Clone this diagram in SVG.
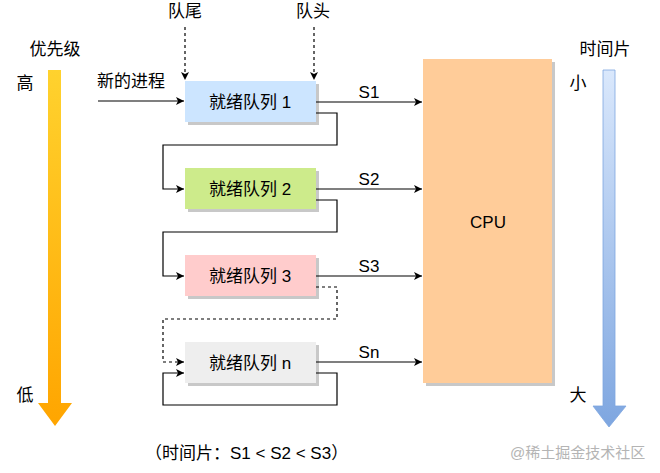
<svg xmlns="http://www.w3.org/2000/svg" width="660" height="473" viewBox="0 0 660 473">
<defs>
<style>
text{font-family:"Liberation Sans","Noto Sans CJK SC",sans-serif;fill:#000;}
.t{font-size:17px;}
.lbl{font-size:17px;text-anchor:middle;}
.sh{fill:#c8c8c8;}
.ln{fill:none;stroke:#000;stroke-width:1.2;}
.dash{fill:none;stroke:#000;stroke-width:1.2;stroke-dasharray:3,3;}
</style>
<marker id="ah" markerWidth="10" markerHeight="10" refX="9" refY="5" orient="auto" markerUnits="userSpaceOnUse">
<path d="M1,1 L9,5 L1,9 L3,5 Z" fill="#000"/>
</marker>
<linearGradient id="gO" x1="0" y1="0" x2="0" y2="1">
<stop offset="0" stop-color="#ffd22e"/>
<stop offset="1" stop-color="#ffa500"/>
</linearGradient>
<linearGradient id="gB" x1="0" y1="0" x2="0" y2="1">
<stop offset="0" stop-color="#dae8fc"/>
<stop offset="1" stop-color="#7ea6e0"/>
</linearGradient>
</defs>
<rect width="660" height="473" fill="#fff"/>

<g id="priority-arrow">
<path d="M48,70 L61,70 L61,403 L72,403 L55,426 L38,403 L48,403 Z" fill="url(#gO)"/>
<text x="55" y="55" class="lbl">优先级</text>
<text x="25" y="89" class="lbl">高</text>
<text x="25" y="401" class="lbl">低</text>
</g>

<g id="timeslice-arrow">
<path d="M603,70 L615,70 L615,406 L626,406 L609,427 L593,406 L603,406 Z" fill="url(#gB)" stroke="#7ea6e0" stroke-width="0.8"/>
<text x="605" y="55" class="lbl">时间片</text>
<text x="578" y="89" class="lbl">小</text>
<text x="578" y="401" class="lbl">大</text>
</g>

<g id="cpu">
<rect x="426" y="62" width="129" height="324" class="sh"/>
<rect x="423" y="59" width="129" height="324" fill="#ffcc99"/>
<text x="488" y="228" class="lbl">CPU</text>
</g>

<g id="q1">
<rect x="188" y="84" width="131" height="41" class="sh"/>
<rect x="185" y="81" width="131" height="41" fill="#cce5ff"/>
<text x="250" y="108" class="lbl">就绪队列 1</text>
</g>
<g id="q2">
<rect x="188" y="171" width="131" height="41" class="sh"/>
<rect x="185" y="168" width="131" height="41" fill="#cdeb8b"/>
<text x="250" y="195" class="lbl">就绪队列 2</text>
</g>
<g id="q3">
<rect x="188" y="258" width="131" height="41" class="sh"/>
<rect x="185" y="255" width="131" height="41" fill="#ffcccc"/>
<text x="250" y="282" class="lbl">就绪队列 3</text>
</g>
<g id="qn">
<rect x="188" y="345" width="131" height="41" class="sh"/>
<rect x="185" y="342" width="131" height="41" fill="#eeeeee"/>
<text x="250" y="369" class="lbl">就绪队列 n</text>
</g>

<g id="labels">
<text x="185" y="17" class="lbl">队尾</text>
<text x="313" y="17" class="lbl">队头</text>
<text x="131" y="87" class="lbl">新的进程</text>
<text x="369" y="98" class="lbl">S1</text>
<text x="369" y="185" class="lbl">S2</text>
<text x="369" y="272" class="lbl">S3</text>
<text x="369" y="358" class="lbl">Sn</text>
<text x="145" y="459" class="t">（时间片：S1 &lt; S2 &lt; S3）</text>
<text x="510" y="458" style="font-size:15px;fill:#b4b4b4">@稀土掘金技术社区</text>
</g>

<g id="connectors">
<path d="M185,27 L185,80" class="dash" marker-end="url(#ah)"/>
<path d="M314,27 L314,80" class="dash" marker-end="url(#ah)"/>
<path d="M98,101 L184,101" class="ln" marker-end="url(#ah)"/>
<path d="M316,102 L422,102" class="ln" marker-end="url(#ah)"/>
<path d="M316,189 L422,189" class="ln" marker-end="url(#ah)"/>
<path d="M316,276 L422,276" class="ln" marker-end="url(#ah)"/>
<path d="M316,362 L422,362" class="ln" marker-end="url(#ah)"/>
<path d="M316,113 L337,113 L337,145 L163,145 L163,189 L184,189" class="ln" marker-end="url(#ah)"/>
<path d="M316,200 L337,200 L337,232 L163,232 L163,276 L184,276" class="ln" marker-end="url(#ah)"/>
<path d="M316,287 L337,287 L337,319 L163,319 L163,362 L184,362" class="dash" marker-end="url(#ah)"/>
<path d="M316,373 L337,373 L337,405 L163,405 L163,373 L184,373" class="ln" marker-end="url(#ah)"/>
</g>
</svg>
